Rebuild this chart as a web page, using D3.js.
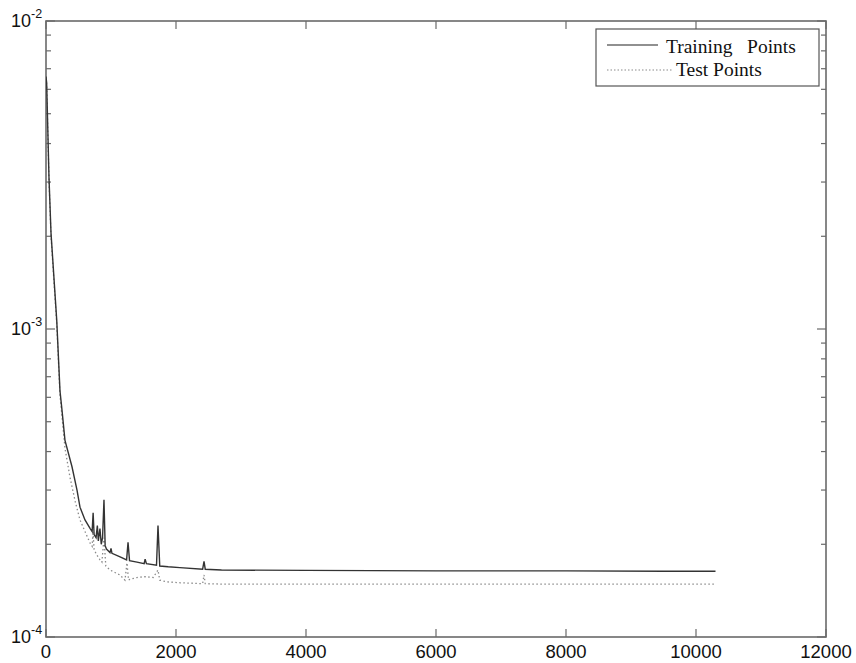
<!DOCTYPE html>
<html>
<head>
<meta charset="utf-8">
<script src="https://cdn.jsdelivr.net/npm/d3@7"></script>
<style>
body { margin: 0; background: #fff; }
svg text { font-family: "Liberation Sans", Arial, sans-serif; fill: #111; }
</style>
</head>
<body>
<div id="chartArea"></div>
<script>
// training curve (iteration, error)
const trainIter = [0, 10, 46, 77, 165, 215, 246, 292, 400, 477, 523, 600, 680, 710, 725, 740, 770, 790, 805, 830, 850, 870, 892, 910, 930, 985, 1000, 1015, 1140, 1240, 1262, 1285, 1400, 1510, 1525, 1545, 1700, 1723, 1750, 1880, 2060, 2410, 2431, 2450, 2700, 4000, 6000, 8000, 9500, 10300];
const trainErr  = [6.6e-3, 6.3e-3, 3.1e-3, 2.05e-3, 1.07e-3, 6.3e-4, 5.45e-4, 4.35e-4, 3.57e-4, 3.0e-4, 2.64e-4, 2.4e-4, 2.25e-4, 2.2e-4, 2.53e-4, 2.15e-4, 2.1e-4, 2.3e-4, 2.05e-4, 2.25e-4, 2.0e-4, 2.1e-4, 2.79e-4, 1.98e-4, 1.93e-4, 1.88e-4, 1.94e-4, 1.87e-4, 1.82e-4, 1.78e-4, 2.03e-4, 1.77e-4, 1.75e-4, 1.73e-4, 1.79e-4, 1.73e-4, 1.71e-4, 2.3e-4, 1.7e-4, 1.69e-4, 1.68e-4, 1.66e-4, 1.76e-4, 1.66e-4, 1.65e-4, 1.645e-4, 1.64e-4, 1.64e-4, 1.635e-4, 1.635e-4];

// test curve
const testIter = [0, 10, 46, 77, 165, 215, 246, 292, 369, 450, 523, 600, 677, 710, 723, 740, 780, 831, 860, 892, 920, 985, 1060, 1138, 1215, 1246, 1270, 1292, 1400, 1523, 1650, 1723, 1750, 1862, 2062, 2410, 2431, 2450, 2700, 4000, 6000, 8000, 9500, 10300];
const testErr  = [6.5e-3, 6.2e-3, 3.05e-3, 2.0e-3, 1.04e-3, 6.1e-4, 5.2e-4, 4.1e-4, 3.3e-4, 2.75e-4, 2.4e-4, 2.2e-4, 2.02e-4, 1.97e-4, 2.2e-4, 1.92e-4, 1.85e-4, 1.78e-4, 1.75e-4, 2.1e-4, 1.7e-4, 1.65e-4, 1.62e-4, 1.59e-4, 1.53e-4, 1.74e-4, 1.53e-4, 1.54e-4, 1.56e-4, 1.57e-4, 1.56e-4, 1.65e-4, 1.53e-4, 1.51e-4, 1.5e-4, 1.49e-4, 1.59e-4, 1.49e-4, 1.485e-4, 1.485e-4, 1.485e-4, 1.485e-4, 1.485e-4, 1.485e-4];

const xTicks = [0, 2000, 4000, 6000, 8000, 10000, 12000];
const yMajor = [-2, -3, -4]; // exponents of the labelled decades
const legendLabels = ["Training   Points", "Test Points"];

const W = 856, H = 663;
const margin = { top: 21, right: 30, bottom: 26, left: 46 },
  width = W - margin.left - margin.right,
  height = H - margin.top - margin.bottom;

const svg = d3.select("#chartArea")
  .append("svg")
  .attr("width", W)
  .attr("height", H)
  .append("g")
  .attr("transform", `translate(${margin.left},${margin.top})`);

const x = d3.scaleLinear().domain([0, 12000]).range([0, width]);
const y = d3.scaleLog().domain([1e-4, 1e-2]).range([height, 0]);

const axisColor = "#6a6a6a";

// minor log ticks (2..9 in each decade)
const minor = [];
[-4, -3].forEach(e => {
  for (let k = 2; k <= 9; k++) minor.push(k * Math.pow(10, e));
});

const tickG = svg.append("g").attr("stroke", axisColor).attr("stroke-width", 1.2);

// x ticks, bottom and top, pointing inward
xTicks.forEach(t => {
  tickG.append("line").attr("x1", x(t)).attr("x2", x(t)).attr("y1", height).attr("y2", height - 8);
  tickG.append("line").attr("x1", x(t)).attr("x2", x(t)).attr("y1", 0).attr("y2", 8);
});
// y major ticks
yMajor.forEach(e => {
  const v = Math.pow(10, e);
  tickG.append("line").attr("x1", 0).attr("x2", 9).attr("y1", y(v)).attr("y2", y(v));
  tickG.append("line").attr("x1", width).attr("x2", width - 9).attr("y1", y(v)).attr("y2", y(v));
});
minor.forEach(v => {
  tickG.append("line").attr("x1", 0).attr("x2", 5).attr("y1", y(v)).attr("y2", y(v));
  tickG.append("line").attr("x1", width).attr("x2", width - 5).attr("y1", y(v)).attr("y2", y(v));
});

// frame
svg.append("rect")
  .attr("width", width)
  .attr("height", height)
  .attr("fill", "none")
  .attr("stroke", axisColor)
  .attr("stroke-width", 1.6);

// x labels
svg.selectAll(".xl")
  .data(xTicks)
  .enter()
  .append("text")
  .attr("x", d => x(d))
  .attr("y", height + 21)
  .attr("text-anchor", "middle")
  .style("font-size", "18.5px")
  .text(d => d);

// y labels: 10 with superscript exponent
yMajor.forEach(e => {
  const t = svg.append("text")
    .attr("x", -35)
    .attr("y", y(Math.pow(10, e)) + 6)
    .style("font-size", "18px");
  t.append("tspan").text("10");
  t.append("tspan").attr("dy", -9).style("font-size", "12.5px").text(e);
});

// curves
const line = d3.line()
  .x(d => x(d[0]))
  .y(d => y(d[1]));

svg.append("clipPath").attr("id", "clip")
  .append("rect").attr("width", width).attr("height", height);

svg.append("path")
  .datum(testIter.map((d, i) => [d, testErr[i]]))
  .attr("clip-path", "url(#clip)")
  .attr("d", line)
  .attr("fill", "none")
  .attr("stroke", "#8a8a8a")
  .attr("stroke-width", 1.3)
  .attr("stroke-dasharray", "1.5,2.5");

svg.append("path")
  .datum(trainIter.map((d, i) => [d, trainErr[i]]))
  .attr("clip-path", "url(#clip)")
  .attr("d", line)
  .attr("fill", "none")
  .attr("stroke", "#333")
  .attr("stroke-width", 1.4);

// legend
const lg = svg.append("g").attr("transform", `translate(${596 - margin.left},${29 - margin.top})`);
lg.append("rect")
  .attr("width", 223)
  .attr("height", 57)
  .attr("fill", "#fff")
  .attr("stroke", "#555")
  .attr("stroke-width", 1.2);
lg.append("line")
  .attr("x1", 11).attr("x2", 62).attr("y1", 16).attr("y2", 16)
  .attr("stroke", "#222").attr("stroke-width", 1.2);
lg.append("line")
  .attr("x1", 11).attr("x2", 76).attr("y1", 41).attr("y2", 41)
  .attr("stroke", "#8a8a8a").attr("stroke-width", 1.2)
  .attr("stroke-dasharray", "1.5,2");
lg.append("text")
  .attr("x", 70).attr("y", 24)
  .style("font-family", "'Liberation Serif', 'Times New Roman', serif")
  .style("font-size", "19.5px")
  .style("white-space", "pre")
  .attr("xml:space", "preserve")
  .text(legendLabels[0]);
lg.append("text")
  .attr("x", 80).attr("y", 47)
  .style("font-family", "'Liberation Serif', 'Times New Roman', serif")
  .style("font-size", "19.5px")
  .text(legendLabels[1]);
</script>
</body>
</html>
